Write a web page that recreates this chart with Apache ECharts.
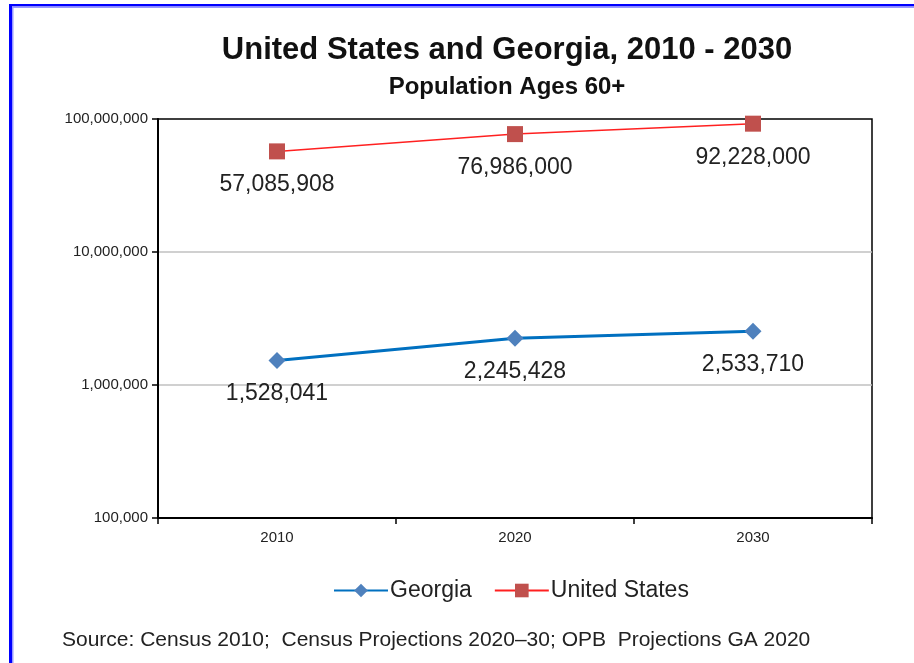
<!DOCTYPE html>
<html>
<head>
<meta charset="utf-8">
<script src="https://cdn.jsdelivr.net/npm/echarts@6/dist/echarts.min.js"></script>
<style>
  html, body { margin: 0; padding: 0; background: #fff; }
  #chart { width: 914px; height: 663px; }
</style>
</head>
<body>
<div id="chart"></div>
<script>
const categories = ['2010', '2020', '2030'];
const georgia = [1528041, 2245428, 2533710];
const unitedStates = [57085908, 76986000, 92228000];
const yTicks = [100000, 1000000, 10000000, 100000000];
const titleText = 'United States and Georgia, 2010 - 2030';
const subtitleText = 'Population Ages 60+';
const sourceText = 'Source: Census 2010;  Census Projections 2020\u201330; OPB  Projections GA 2020';

const FONT = '"Liberation Sans", Arial, sans-serif';
const fmt = v => Math.round(v).toLocaleString('en-US');

const chart = echarts.init(document.getElementById('chart'), null, { renderer: 'canvas' });
chart.setOption({
  backgroundColor: '#fff',
  animation: false,
  textStyle: { fontFamily: FONT },
  grid: {
    left: 158, right: 42, top: 119, bottom: 145,
    show: true, borderColor: '#000', borderWidth: 1.5, backgroundColor: 'transparent'
  },
  legend: {
    left: 328, top: 574,
    itemWidth: 54, itemHeight: 17, itemGap: 22,
    textStyle: { fontSize: 23, color: '#222', fontFamily: FONT, padding: [0, 0, 0, -3] },
    data: ['Georgia', 'United States']
  },
  xAxis: {
    type: 'category',
    data: categories,
    boundaryGap: true,
    axisLine: { lineStyle: { color: '#000', width: 2 } },
    axisTick: { show: true, length: 6, lineStyle: { color: '#000', width: 1.5 } },
    axisLabel: { fontSize: 15, color: '#222', margin: 12, fontFamily: FONT }
  },
  yAxis: {
    type: 'log',
    logBase: 10,
    min: yTicks[0],
    max: yTicks[yTicks.length - 1],
    axisLine: { show: true, lineStyle: { color: '#000', width: 2 } },
    axisTick: { show: true, length: 6, lineStyle: { color: '#000', width: 1.5 } },
    axisLabel: { fontSize: 15, color: '#222', margin: 10, fontFamily: FONT, formatter: v => fmt(v) },
    splitLine: { show: true, showMinLine: false, showMaxLine: false, lineStyle: { color: '#c0c0c0', width: 1.5 } }
  },
  series: [
    {
      name: 'Georgia',
      type: 'line',
      data: georgia,
      symbol: 'diamond',
      symbolSize: 17,
      lineStyle: { color: '#0070c0', width: 3 },
      itemStyle: { color: '#4f81bd' },
      label: {
        show: true, position: 'bottom', distance: 13,
        fontSize: 23, color: '#222', fontFamily: FONT,
        formatter: p => fmt(p.value)
      }
    },
    {
      name: 'United States',
      type: 'line',
      data: unitedStates,
      symbol: 'rect',
      symbolSize: 16,
      lineStyle: { color: '#ff2020', width: 1.5 },
      itemStyle: { color: '#c0504d' },
      label: {
        show: true, position: 'bottom', distance: 14,
        fontSize: 23, color: '#222', fontFamily: FONT,
        formatter: p => fmt(p.value)
      }
    }
  ],
  graphic: [
    { type: 'rect', shape: { x: 9, y: 4, width: 905, height: 2.5 }, style: { fill: '#0000ff' }, silent: true },
    { type: 'rect', shape: { x: 9, y: 4, width: 3, height: 659 }, style: { fill: '#0000ff' }, silent: true },
    { type: 'rect', shape: { x: 12, y: 6.5, width: 902, height: 1.5 }, style: { fill: '#9999ff' }, silent: true },
    { type: 'rect', shape: { x: 12, y: 6.5, width: 1.5, height: 657 }, style: { fill: '#9999ff' }, silent: true },
    {
      type: 'text', x: 507, y: 50,
      style: { text: titleText, font: 'bold 31px ' + FONT, fill: '#111', align: 'center', verticalAlign: 'middle' }
    },
    {
      type: 'text', x: 507, y: 87,
      style: { text: subtitleText, font: 'bold 24px ' + FONT, fill: '#111', align: 'center', verticalAlign: 'middle' }
    },
    {
      type: 'text', x: 62, y: 640,
      style: { text: sourceText, font: '21px ' + FONT, fill: '#222', align: 'left', verticalAlign: 'middle' }
    }
  ]
});
</script>
</body>
</html>
